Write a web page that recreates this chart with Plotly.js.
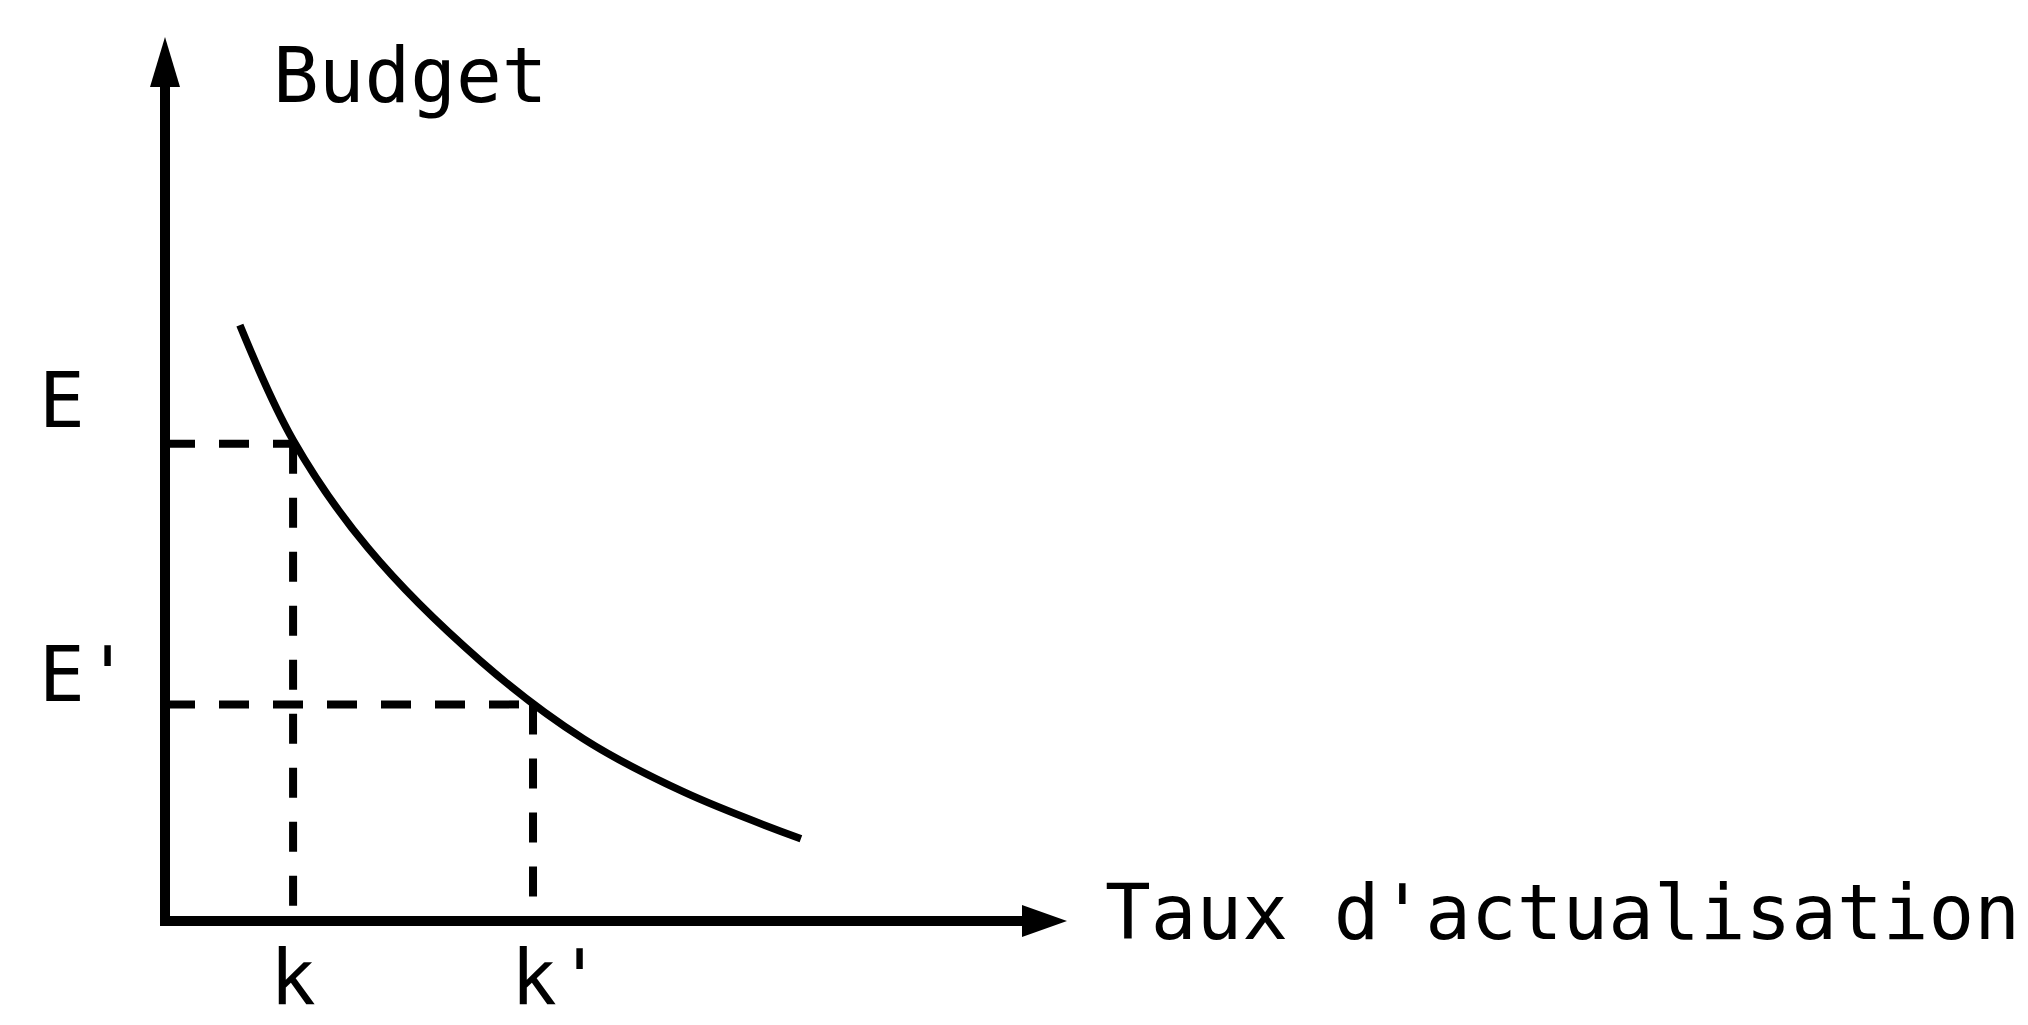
<!DOCTYPE html>
<html>
<head>
<meta charset="utf-8">
<script src="https://cdn.plot.ly/plotly-3.0.1.min.js"></script>
<style>
html, body { margin: 0; padding: 0; background: #ffffff; }
#chart { width: 2028px; height: 1025px; }
</style>
</head>
<body>
<div id="chart"></div>
<script>
// ---- data ----
const curveRate   = [0.83, 1.42, 2.25, 3.50, 4.64, 5.75, 7.05];
const curveBudget = [6.74, 5.44, 4.22, 2.94, 2.06, 1.46, 0.93];
const rateMarks   = [1.42, 4.08];     // k, k'
const budgetMarks = [5.40, 2.45];     // E, E'
const rateLabels   = ['k', "k'"];
const budgetLabels = ['E', "E'"];
const xTitle = "Taux d'actualisation";
const yTitle = 'Budget';

// ---- styling ----
const FONT = { family: 'DejaVu Sans Mono, monospace', size: 76, color: '#000000' };
const X_MAX = 10, Y_MAX = 10;
const W = 2028, H = 1025;
const margin = { l: 165, r: 961, t: 37, b: 104 };
const plotW = W - margin.l - margin.r;
const plotH = H - margin.t - margin.b;

const traces = [];
// dashed guide lines
for (let i = 0; i < rateMarks.length; i++) {
  traces.push({
    type: 'scatter', mode: 'lines', hoverinfo: 'skip',
    x: [0, rateMarks[i], null, rateMarks[i], rateMarks[i]],
    y: [budgetMarks[i], budgetMarks[i], null, budgetMarks[i], 0],
    line: { color: '#000000', width: 8, dash: '30px,24px' },
    connectgaps: false
  });
}
// budget curve
traces.push({
  type: 'scatter', mode: 'lines', hoverinfo: 'skip',
  x: curveRate, y: curveBudget,
  line: { color: '#000000', width: 7.5, shape: 'spline', smoothing: 1 }
});

// annotations positioned in paper units derived from axis values
const px = v => v / X_MAX, py = v => v / Y_MAX;
const annotations = [
  { text: yTitle, x: px(1.17), y: py(9.04), xanchor: 'left', yanchor: 'bottom' },
  { text: xTitle, x: px(10.40), y: 0, xanchor: 'left', yanchor: 'middle', yshift: 9 },
  { text: budgetLabels[0], x: px(-1.42), y: py(budgetMarks[0]), xanchor: 'left', yanchor: 'bottom', yshift: -3 },
  { text: budgetLabels[1], x: px(-1.42), y: py(budgetMarks[1]), xanchor: 'left', yanchor: 'bottom', yshift: -17 },
  { text: rateLabels[0], x: px(rateMarks[0]), y: 0, xanchor: 'center', yanchor: 'bottom', yshift: -103 },
  { text: rateLabels[1], x: px(rateMarks[1]), y: 0, xanchor: 'left', yanchor: 'bottom', yshift: -103, xshift: -24 }
].map(a => Object.assign({ xref: 'paper', yref: 'paper', showarrow: false, font: FONT }, a));

const yLineEnd = 1 - 40 / plotH;
const xLineEnd = 1 - 36 / plotW;
const shapes = [
  { type: 'path', xref: 'paper', yref: 'paper', layer: 'above',
    path: `M0,${yLineEnd} L0,0 L${xLineEnd},0`,
    line: { color: '#000000', width: 10 }, fillcolor: 'rgba(0,0,0,0)' },
  { type: 'path', xref: 'paper', yref: 'paper', xsizemode: 'pixel', ysizemode: 'pixel',
    xanchor: 0, yanchor: 1, path: 'M0,0 L-15,-50 L15,-50 Z',
    fillcolor: '#000000', line: { width: 0 } },
  { type: 'path', xref: 'paper', yref: 'paper', xsizemode: 'pixel', ysizemode: 'pixel',
    xanchor: 1, yanchor: 0, path: 'M0,0 L-45,16 L-45,-16 Z',
    fillcolor: '#000000', line: { width: 0 } }
];

const layout = {
  width: W, height: H, margin: margin,
  paper_bgcolor: '#ffffff', plot_bgcolor: '#ffffff',
  showlegend: false,
  xaxis: { range: [0, X_MAX], visible: false, fixedrange: true },
  yaxis: { range: [0, Y_MAX], visible: false, fixedrange: true },
  annotations: annotations,
  shapes: shapes,
  font: FONT
};

Plotly.newPlot('chart', traces, layout, { staticPlot: true, displayModeBar: false });
</script>
</body>
</html>
